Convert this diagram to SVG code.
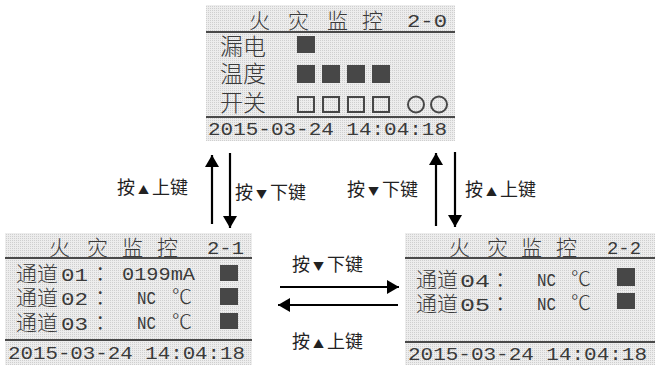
<svg xmlns="http://www.w3.org/2000/svg" width="661" height="365" viewBox="0 0 661 365">
<defs>
<pattern id="lcd" width="2" height="2" patternUnits="userSpaceOnUse">
<rect width="2" height="2" fill="#ededed"/>
<rect width="1" height="1" fill="#cfcfcf"/>
</pattern>
<marker id="ah" viewBox="0 0 12 14" refX="12" refY="7" markerWidth="12" markerHeight="14" markerUnits="userSpaceOnUse" orient="auto">
<path d="M0,0 L12,7 L0,14 Z" fill="#000"/>
</marker>
<style>
.bg{fill:url(#lcd)}
.sep{fill:#4a4a4a}
.cj{font-family:"Noto Sans CJK SC","Noto Sans",sans-serif;fill:#3a3a3a;font-size:21px;font-weight:300}
.mn{font-family:"Liberation Mono","DejaVu Sans Mono",monospace;fill:#3a3a3a;font-size:19px}
.fill{fill:#474747}
.open{fill:none;stroke:#474747;stroke-width:2}
.lbl{font-family:"Noto Sans CJK SC","Noto Sans",sans-serif;fill:#222;font-size:18px}
.tri{font-size:11px}
.arr{stroke:#000;stroke-width:2.2;fill:none;marker-end:url(#ah)}
</style>
</defs>
<rect width="661" height="365" fill="#fff"/>

<g id="screen-2-0">
<rect class="bg" x="206" y="5" width="249" height="136"/>
<text class="cj" x="249" y="28">火</text>
<text class="cj" x="288" y="28">灾</text>
<text class="cj" x="327" y="28">监</text>
<text class="cj" x="362" y="28">控</text>
<text class="mn" x="407" y="27" textLength="40" lengthAdjust="spacingAndGlyphs">2-0</text>
<rect class="sep" x="206" y="31" width="249" height="2"/>
<text class="cj" x="220" y="55" style="font-size:23px">漏电</text>
<text class="cj" x="220" y="82" style="font-size:23px">温度</text>
<text class="cj" x="220" y="111" style="font-size:23px">开关</text>
<rect class="fill" x="297" y="36" width="18" height="17"/>
<rect class="fill" x="297" y="65" width="18" height="18"/>
<rect class="fill" x="322" y="65" width="18" height="18"/>
<rect class="fill" x="347" y="65" width="18" height="18"/>
<rect class="fill" x="372" y="65" width="18" height="18"/>
<rect class="open" x="298" y="97" width="16" height="15"/>
<rect class="open" x="323" y="97" width="16" height="15"/>
<rect class="open" x="348" y="97" width="16" height="15"/>
<rect class="open" x="373" y="97" width="16" height="15"/>
<circle class="open" cx="416" cy="104.5" r="8"/>
<circle class="open" cx="439" cy="104.5" r="8"/>
<rect class="sep" x="206" y="116" width="249" height="2"/>
<text class="mn" x="208" y="135" textLength="239" lengthAdjust="spacingAndGlyphs">2015-03-24 14:04:18</text>
</g>

<g id="screen-2-1">
<rect class="bg" x="5" y="233" width="247" height="132"/>
<text class="cj" x="49" y="255">火</text>
<text class="cj" x="87" y="255">灾</text>
<text class="cj" x="122" y="255">监</text>
<text class="cj" x="157" y="255">控</text>
<text class="mn" x="207" y="254" textLength="37" lengthAdjust="spacingAndGlyphs">2-1</text>
<rect class="sep" x="5" y="257" width="247" height="2"/>
<text class="cj" x="16" y="281">通道</text>
<text class="mn" x="61" y="281" textLength="27" lengthAdjust="spacingAndGlyphs">01</text>
<text class="cj" x="95" y="280">：</text>
<text class="mn" x="122" y="280" textLength="73" lengthAdjust="spacingAndGlyphs">0199mA</text>
<rect class="fill" x="220" y="265" width="18" height="16"/>
<text class="cj" x="16" y="305">通道</text>
<text class="mn" x="61" y="305" textLength="27" lengthAdjust="spacingAndGlyphs">02</text>
<text class="cj" x="95" y="304">：</text>
<text class="mn" x="137" y="304" textLength="19" lengthAdjust="spacingAndGlyphs">NC</text>
<text class="cj" x="172" y="304" style="font-size:20px">℃</text>
<rect class="fill" x="220" y="288" width="18" height="17"/>
<text class="cj" x="16" y="330">通道</text>
<text class="mn" x="61" y="330" textLength="27" lengthAdjust="spacingAndGlyphs">03</text>
<text class="cj" x="95" y="329">：</text>
<text class="mn" x="137" y="329" textLength="19" lengthAdjust="spacingAndGlyphs">NC</text>
<text class="cj" x="172" y="329" style="font-size:20px">℃</text>
<rect class="fill" x="220" y="313" width="18" height="16"/>
<rect class="sep" x="5" y="339" width="247" height="2"/>
<text class="mn" x="8" y="359" textLength="237" lengthAdjust="spacingAndGlyphs">2015-03-24 14:04:18</text>
</g>

<g id="screen-2-2">
<rect class="bg" x="405" y="233" width="250" height="132"/>
<text class="cj" x="449" y="255">火</text>
<text class="cj" x="487" y="255">灾</text>
<text class="cj" x="521" y="255">监</text>
<text class="cj" x="556" y="255">控</text>
<text class="mn" x="607" y="254" textLength="34" lengthAdjust="spacingAndGlyphs">2-2</text>
<rect class="sep" x="405" y="257" width="250" height="2"/>
<text class="cj" x="416" y="287">通道</text>
<text class="mn" x="460" y="287" textLength="30" lengthAdjust="spacingAndGlyphs">04</text>
<text class="cj" x="495" y="286">：</text>
<text class="mn" x="537" y="286" textLength="19" lengthAdjust="spacingAndGlyphs">NC</text>
<text class="cj" x="571" y="286" style="font-size:20px">℃</text>
<rect class="fill" x="617" y="268" width="18" height="18"/>
<text class="cj" x="416" y="311">通道</text>
<text class="mn" x="460" y="311" textLength="30" lengthAdjust="spacingAndGlyphs">05</text>
<text class="cj" x="495" y="310">：</text>
<text class="mn" x="537" y="310" textLength="19" lengthAdjust="spacingAndGlyphs">NC</text>
<text class="cj" x="571" y="310" style="font-size:20px">℃</text>
<rect class="fill" x="617" y="293" width="18" height="16"/>
<rect class="sep" x="405" y="341" width="250" height="2"/>
<text class="mn" x="408" y="360" textLength="239" lengthAdjust="spacingAndGlyphs">2015-03-24 14:04:18</text>
</g>

<g id="connectors">
<line class="arr" x1="212" y1="224" x2="212" y2="155"/>
<line class="arr" x1="230" y1="153" x2="230" y2="228"/>
<line class="arr" x1="436" y1="226" x2="436" y2="153"/>
<line class="arr" x1="455" y1="152" x2="455" y2="227"/>
<line class="arr" x1="280" y1="287" x2="399" y2="287"/>
<line class="arr" x1="398" y1="305" x2="278" y2="305"/>
<text class="lbl" x="117" y="194">按<tspan class="tri" dx="3">▲</tspan><tspan dx="3">上键</tspan></text>
<text class="lbl" x="235" y="199">按<tspan class="tri" dx="3">▼</tspan><tspan dx="3">下键</tspan></text>
<text class="lbl" x="347" y="196">按<tspan class="tri" dx="3">▼</tspan><tspan dx="3">下键</tspan></text>
<text class="lbl" x="465" y="196">按<tspan class="tri" dx="3">▲</tspan><tspan dx="3">上键</tspan></text>
<text class="lbl" x="292" y="271">按<tspan class="tri" dx="3">▼</tspan><tspan dx="3">下键</tspan></text>
<text class="lbl" x="292" y="348">按<tspan class="tri" dx="3">▲</tspan><tspan dx="3">上键</tspan></text>
</g>
</svg>
